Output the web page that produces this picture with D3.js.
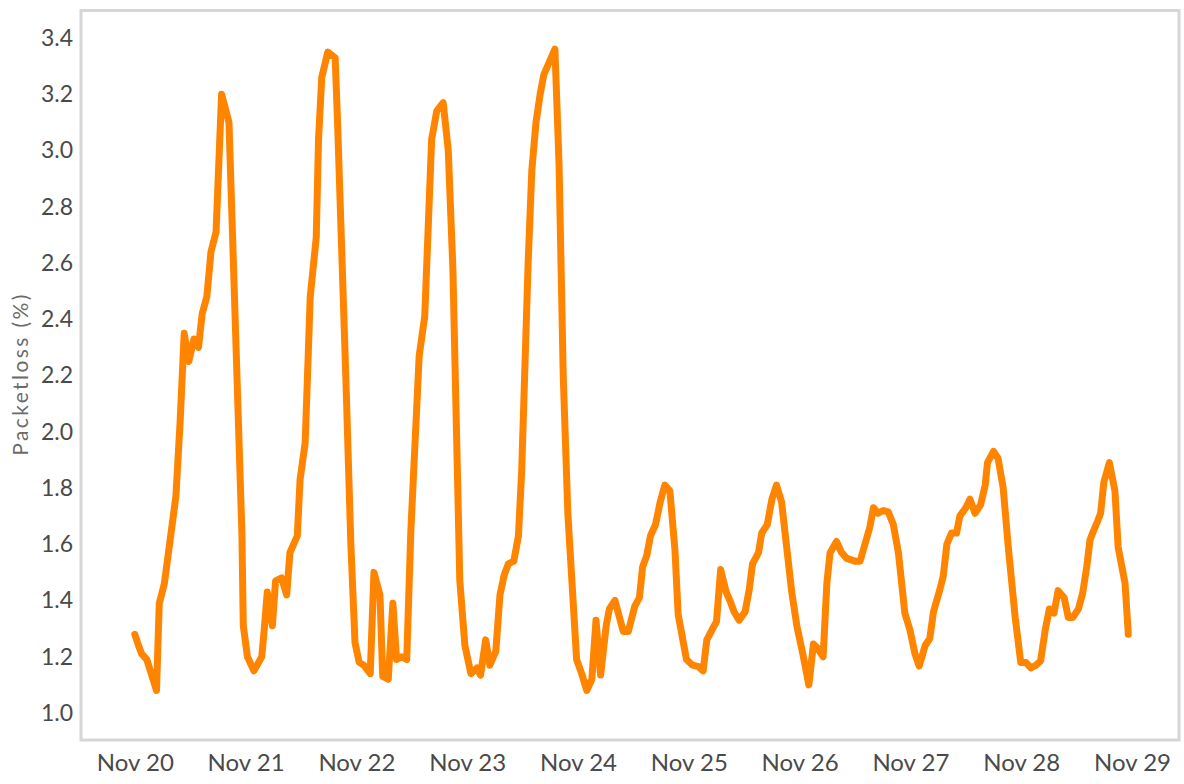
<!DOCTYPE html>
<meta charset="utf-8">
<script src="https://d3js.org/d3.v7.min.js"></script>
<style>
    body { margin: 0; background: #fff; }
    svg { display: block; font-family: Lato, "Open Sans", sans-serif; }
</style>

<body>
    <div id="chart"></div>
</body>
<script>

    // hours since Nov 20 00:00, and packet loss (%)
    var hours = [0, 0.8, 1.5, 2.6, 4.7, 5.3, 6.4, 8.9, 9.8, 10.7, 11.7, 12.8, 13.8, 14.6, 15.6, 16.5, 17.6, 18.8, 20.4, 23.2,
        23.5, 24.4, 25.8, 27.5, 28.0, 28.7, 29.8, 30.5, 31.8, 32.9, 33.6, 35.2, 35.8, 36.9, 38.0, 39.3, 39.8, 40.5, 41.8, 43.4,
        43.9, 45.7, 46.8, 47.7, 48.6, 49.6, 51.0, 51.8, 53.1, 53.7, 54.9, 55.9, 56.7, 57.8, 58.9, 59.8, 61.6, 62.8, 64.3, 65.4,
        66.8, 67.9, 68.9, 70.4, 71.5, 72.8, 74.1, 74.9, 76.0, 76.9, 78.2, 79.1, 80.0, 80.9, 82.1, 83.1, 83.8, 85.2, 86.0, 86.9,
        87.8, 88.6, 91.0, 91.9, 92.8, 93.8, 95.7, 96.8, 97.9, 99.0, 99.9, 100.9, 102.1, 102.8, 104.0, 105.8, 106.9, 108.3, 109.3, 110.0,
        110.9, 111.7, 112.8, 113.8, 114.8, 115.9, 117.0, 117.7, 119.5, 120.8, 122.1, 123.1, 123.9, 125.0, 126.0, 126.9, 128.1, 128.9, 129.8, 130.9,
        132.2, 133.1, 133.8, 135.1, 135.8, 137.0, 138.0, 139.0, 140.1, 141.2, 142.3, 143.4, 144.7, 146.0, 147.0, 147.9, 149.1, 149.9, 150.6, 152.0,
        153.1, 154.2, 156.0, 157.1, 158.5, 159.2, 160.0, 161.0, 162.1, 163.2, 164.3, 165.4, 166.8, 167.9, 169.0, 169.9, 171.2, 172.2, 173.0, 174.4,
        175.1, 175.9, 176.9, 178.0, 178.7, 180.0, 180.9, 182.0, 183.2, 184.2, 184.7, 186.0, 187.0, 188.1, 189.2, 190.7, 191.9, 193.0, 194.1, 195.2,
        196.2, 197.2, 198.1, 199.1, 200.0, 201.3, 202.2, 203.2, 204.4, 205.3, 206.2, 206.9, 207.6, 208.5, 209.2, 209.9, 211.1, 212.3, 213.0, 214.5,
        215.2];
    var loss = [1.28, 1.24, 1.21, 1.19, 1.08, 1.39, 1.46, 1.77, 2.03, 2.35, 2.25, 2.33, 2.30, 2.42, 2.48, 2.64, 2.71, 3.20, 3.10, 1.64,
        1.31, 1.20, 1.15, 1.20, 1.29, 1.43, 1.31, 1.47, 1.48, 1.42, 1.57, 1.63, 1.83, 1.96, 2.48, 2.69, 3.04, 3.26, 3.35, 3.33,
        3.11, 2.20, 1.60, 1.25, 1.18, 1.17, 1.14, 1.50, 1.42, 1.13, 1.12, 1.39, 1.19, 1.20, 1.19, 1.65, 2.27, 2.41, 3.04, 3.14,
        3.17, 3.00, 2.58, 1.47, 1.24, 1.14, 1.16, 1.135, 1.26, 1.17, 1.22, 1.42, 1.49, 1.53, 1.54, 1.63, 1.86, 2.60, 2.93, 3.10,
        3.20, 3.27, 3.36, 2.95, 2.20, 1.71, 1.19, 1.14, 1.08, 1.12, 1.33, 1.135, 1.31, 1.37, 1.40, 1.29, 1.29, 1.38, 1.41, 1.52,
        1.56, 1.63, 1.67, 1.75, 1.81, 1.79, 1.58, 1.35, 1.19, 1.17, 1.165, 1.15, 1.26, 1.295, 1.325, 1.51, 1.43, 1.40, 1.36, 1.33,
        1.36, 1.44, 1.53, 1.57, 1.64, 1.67, 1.76, 1.81, 1.75, 1.59, 1.43, 1.31, 1.21, 1.10, 1.245, 1.23, 1.20, 1.46, 1.57, 1.61,
        1.57, 1.55, 1.54, 1.54, 1.62, 1.66, 1.73, 1.71, 1.72, 1.715, 1.67, 1.57, 1.355, 1.295, 1.21, 1.167, 1.24, 1.265, 1.36, 1.44,
        1.485, 1.60, 1.64, 1.64, 1.70, 1.73, 1.76, 1.71, 1.74, 1.81, 1.89, 1.93, 1.905, 1.80, 1.59, 1.34, 1.18, 1.18, 1.16, 1.17,
        1.185, 1.295, 1.37, 1.355, 1.435, 1.41, 1.34, 1.34, 1.37, 1.425, 1.52, 1.615, 1.645, 1.68, 1.71, 1.82, 1.89, 1.79, 1.59, 1.46,
        1.28];
    var yTicks = [1.0, 1.2, 1.4, 1.6, 1.8, 2.0, 2.2, 2.4, 2.6, 2.8, 3.0, 3.2, 3.4];
    var start = new Date(2020, 10, 20);
    var end = new Date(2020, 10, 29);

    var width = 1184,
        height = 784;

    var data = hours.map(function (h, i) {
        return { t: new Date(start.getTime() + h * 3600e3), v: loss[i] };
    });

    var svg = d3.select("#chart")
        .append("svg")
        .attr("width", width)
        .attr("height", height)

    var x = d3.scaleTime()
        .domain([start, end])
        .range([134.8, 1132])

    var y = d3.scaleLinear()
        .domain([1.0, 3.4])
        .range([713, 38])

    // plot frame
    svg.append("rect")
        .attr("x", 81)
        .attr("y", 10.5)
        .attr("width", 1098)
        .attr("height", 729.5)
        .attr("fill", "none")
        .attr("stroke", "#d6d6d6")
        .attr("stroke-width", 3)

    // x axis
    var xAxis = svg.append("g")
        .attr("transform", "translate(0,740)")
        .call(d3.axisBottom(x)
            .ticks(d3.timeDay.every(1))
            .tickFormat(d3.timeFormat("%b %d"))
            .tickSize(0)
            .tickPadding(14))
    xAxis.select(".domain").remove()
    xAxis.selectAll("text")
        .attr("fill", "#4a4a4a")
        .style("font-size", "24px")
        .style("font-family", "Lato, sans-serif")

    // y axis
    var yAxis = svg.append("g")
        .attr("transform", "translate(81,0)")
        .call(d3.axisLeft(y)
            .tickValues(yTicks)
            .tickFormat(d3.format(".1f"))
            .tickSize(0)
            .tickPadding(8))
    yAxis.select(".domain").remove()
    yAxis.selectAll("text")
        .attr("fill", "#4a4a4a")
        .style("font-size", "23px")
        .style("font-family", "Lato, sans-serif")

    svg.append("text")
        .attr("transform", "translate(28,374) rotate(-90)")
        .attr("text-anchor", "middle")
        .attr("fill", "#6b6b6b")
        .style("font-size", "21px")
        .style("letter-spacing", "2.4px")
        .text("Packetloss (%)")

    var line = d3.line()
        .x(function (d) { return x(d.t) })
        .y(function (d) { return y(d.v) })

    svg.append("path")
        .datum(data)
        .attr("d", line)
        .attr("fill", "none")
        .attr("stroke", "#ff8400")
        .attr("stroke-width", 7)
        .attr("stroke-linejoin", "round")
        .attr("stroke-linecap", "round")

</script>
